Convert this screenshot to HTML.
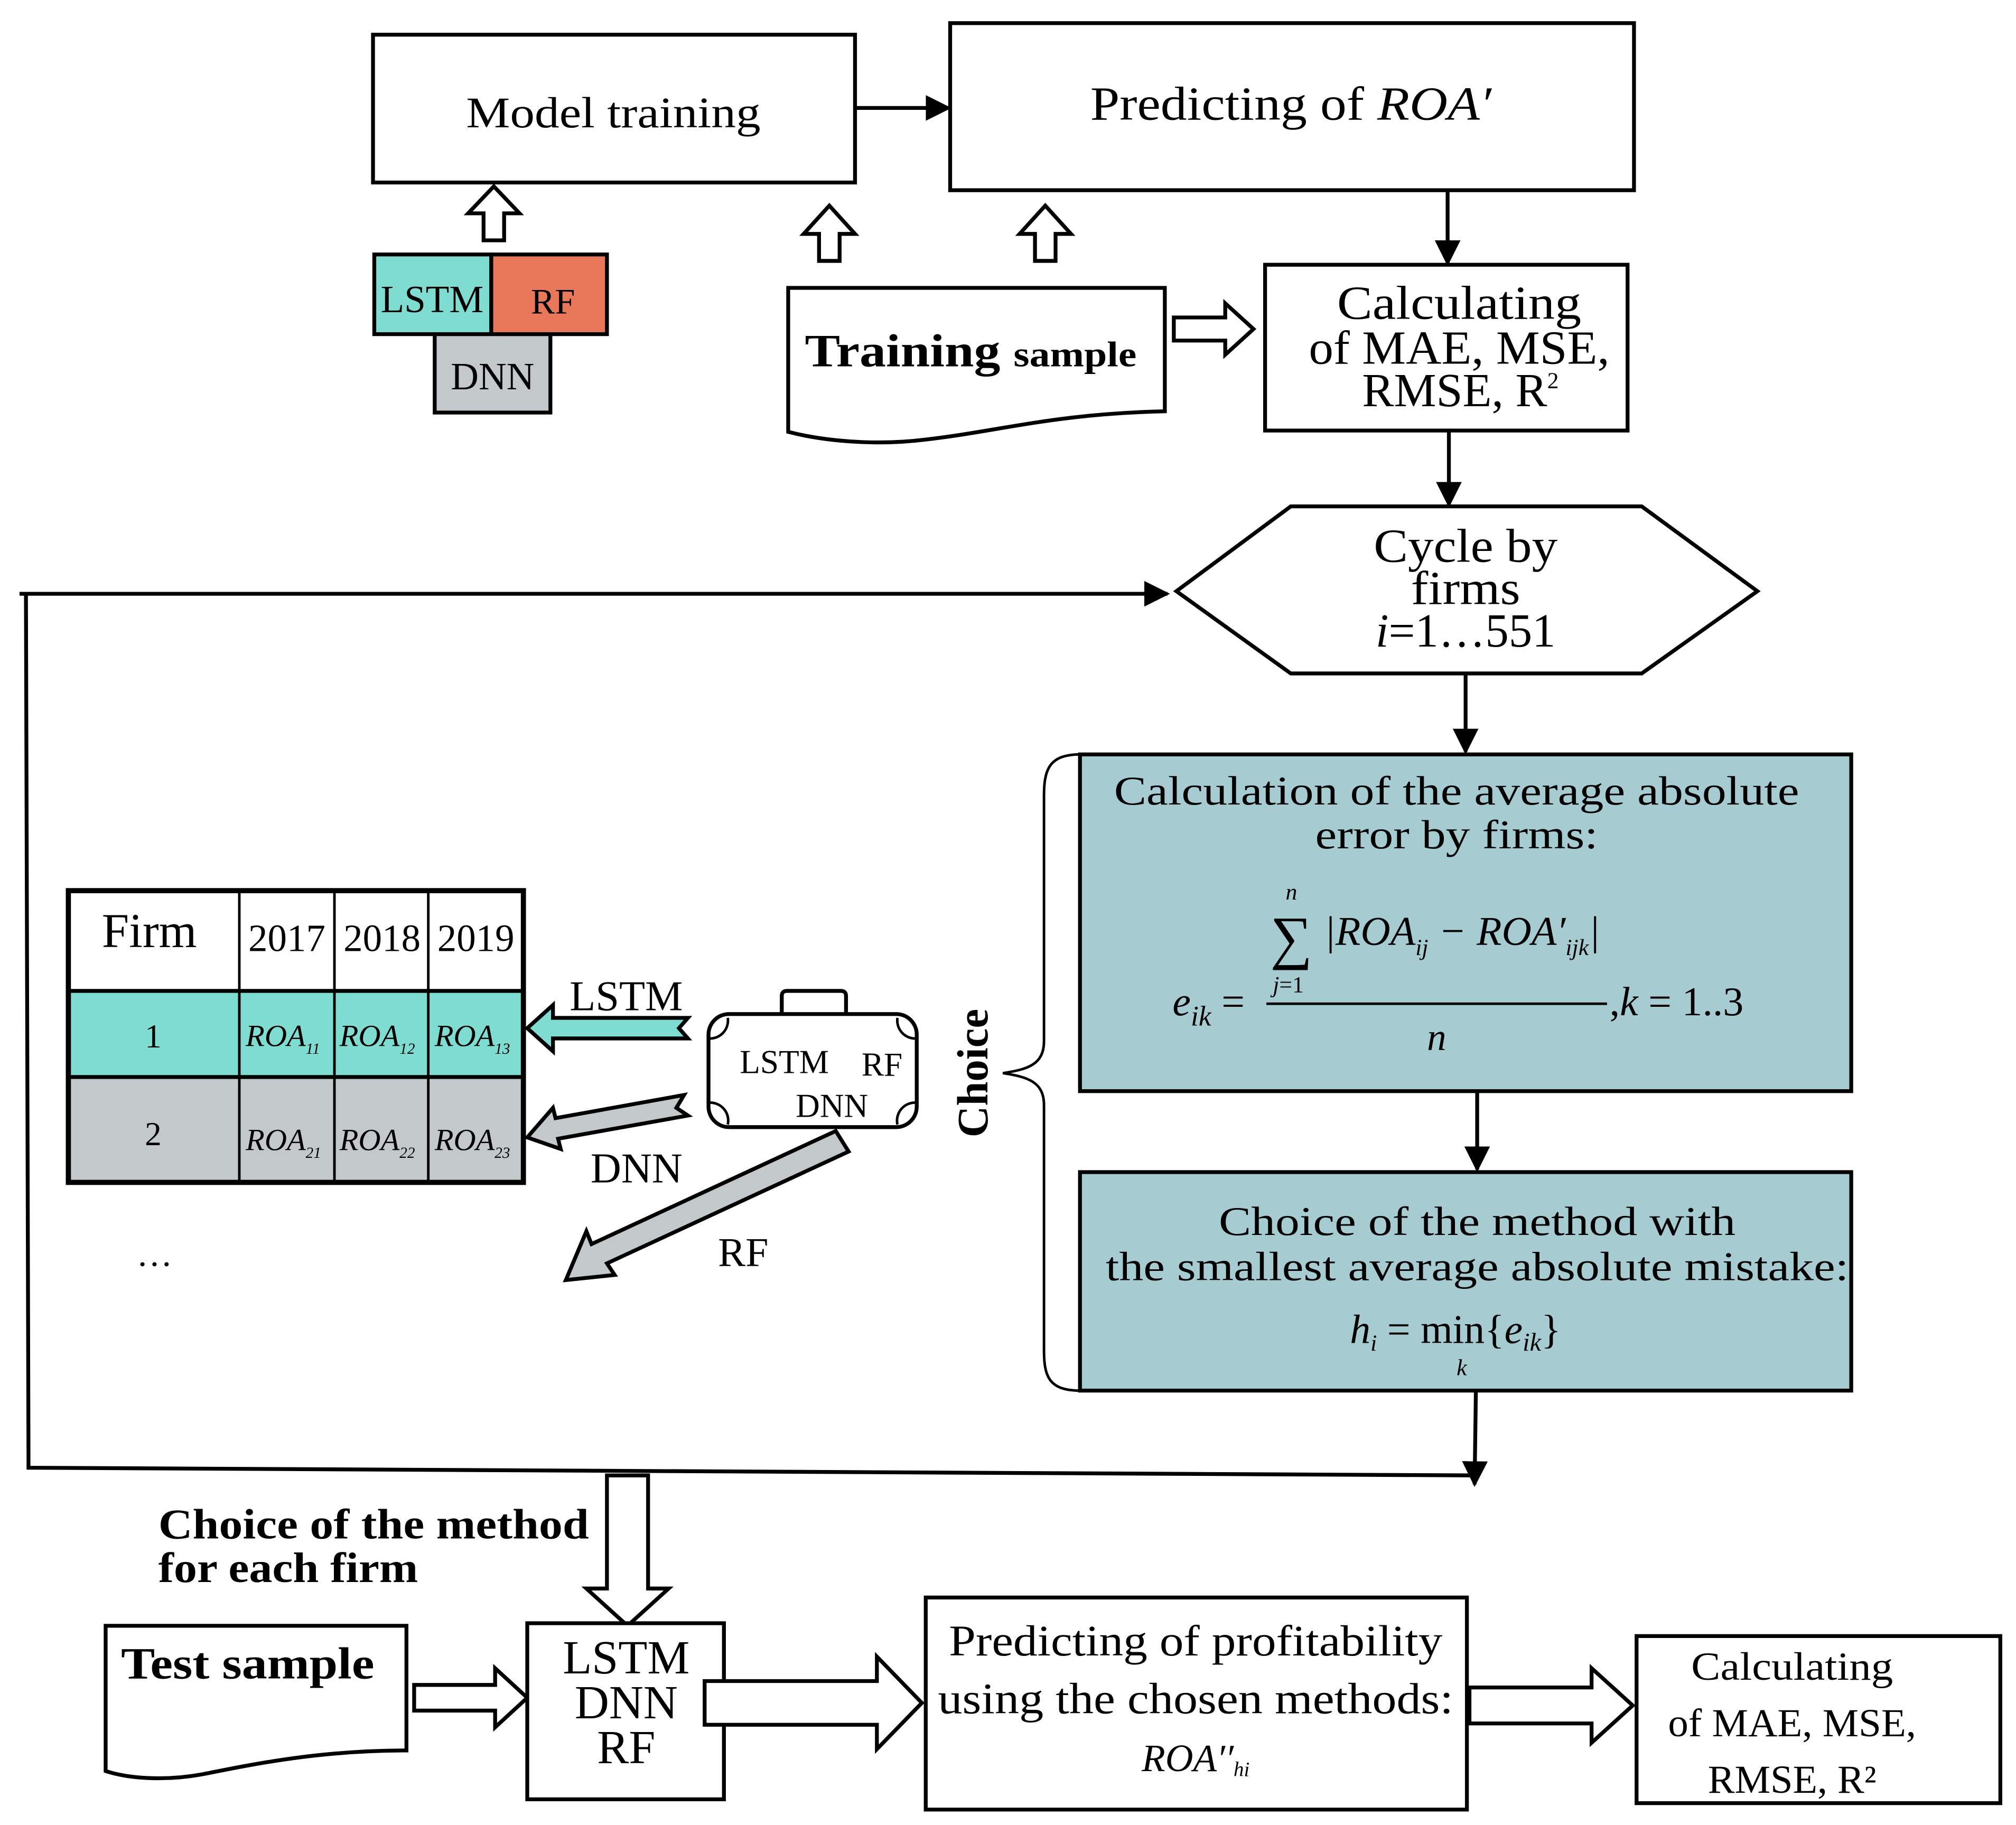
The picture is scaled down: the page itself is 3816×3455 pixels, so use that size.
<!DOCTYPE html>
<html><head><meta charset="utf-8"><style>html,body{margin:0;padding:0;background:#fff}svg{display:block}text{font-family:"Liberation Serif",serif;fill:#000}</style></head>
<body>
<svg width="3816" height="3455" viewBox="0 0 1568 1420" xmlns="http://www.w3.org/2000/svg">
<defs><marker id="ah2" markerWidth="20" markerHeight="20" refX="18" refY="10" orient="auto" markerUnits="userSpaceOnUse"><path d="M0,0 L20,10 L0,20 z" fill="#000"/></marker></defs>
<g stroke="#000" stroke-width="3" fill="none">
<rect x="290" y="27" width="375" height="115" fill="#fff"/>
<rect x="739" y="18" width="532" height="130" fill="#fff"/>
<line x1="665" y1="84" x2="738" y2="84" marker-end="url(#ah2)"/>
<polygon points="376,187 376,166 364,166 384,145 404,166 392,166 392,187" fill="#fff"/>
<polygon points="637,203 637,182 625,182 645,160 665,182 653,182 653,203" fill="#fff"/>
<polygon points="805,203 805,182 793,182 813,160 833,182 821,182 821,203" fill="#fff"/>
<rect x="291" y="198" width="91" height="62" fill="#7fdcd0"/>
<rect x="382" y="198" width="90" height="62" fill="#e9775a"/>
<rect x="338" y="260" width="90" height="61" fill="#c3c8ca"/>
<path d="M613,224 L906,224 L906,320 C820,322 780,335 720,342 C680,347 640,343 613,336 Z" fill="#fff"/>
<polygon points="913,247 953,247 953,236 975,256 953,276 953,265 913,265" fill="#fff"/>
<rect x="984" y="206" width="282" height="129" fill="#fff"/>
<line x1="1126" y1="148" x2="1126" y2="205" marker-end="url(#ah2)"/>
<line x1="1127" y1="335" x2="1127" y2="393" marker-end="url(#ah2)"/>
<polygon points="915,460 1004,394 1277,394 1367,460 1277,524 1004,524" fill="#fff"/>
<line x1="15" y1="462" x2="908" y2="462" marker-end="url(#ah2)"/>
<polyline points="20,462 22,1142 1147,1148"/>
<line x1="1148" y1="1082" x2="1147" y2="1155" marker-end="url(#ah2)"/>
<line x1="1140" y1="524" x2="1140" y2="585" marker-end="url(#ah2)"/>
<rect x="840" y="587" width="600" height="262" fill="#a6ccd2"/>
<line x1="1149" y1="849" x2="1149" y2="910" marker-end="url(#ah2)"/>
<rect x="840" y="912" width="600" height="170" fill="#a6ccd2"/>
<path d="M840,587 C815,587 812,600 812,620 L812,810 C812,828 800,832 780,835 C800,838 812,842 812,860 L812,1050 C812,1070 815,1082 840,1082" stroke-width="2"/>
<rect x="53" y="771" width="354" height="67" fill="#7fdcd0" stroke="none"/>
<rect x="53" y="838" width="354" height="82" fill="#c3c8ca" stroke="none"/>
<rect x="53" y="693" width="354" height="227" stroke-width="4"/>
<line x1="53" y1="771" x2="407" y2="771"/>
<line x1="53" y1="838" x2="407" y2="838"/>
<line x1="186" y1="693" x2="186" y2="920" stroke-width="2"/>
<line x1="260" y1="693" x2="260" y2="920" stroke-width="2"/>
<line x1="333" y1="693" x2="333" y2="920" stroke-width="2"/>
<polygon points="535,792 430,792 430,782 410,800 430,818 430,808 535,808 528,800" fill="#7fdcd0"/>
<polygon points="532,852 432,870 430,862 410,885 436,894 434,886 535,868 526,862" fill="#c3c8ca"/>
<polygon points="650,880 460,968 456,958 440,996 478,992 472,983 660,896" fill="#c3c8ca"/>
<path d="M608,789 L608,775 Q608,771 612,771 L654,771 Q658,771 658,775 L658,789" fill="#fff"/>
<rect x="551" y="789" width="162" height="88" rx="16" fill="#fff"/>
<path d="M551,808 A14,14 0 0 0 566,792 M713,808 A14,14 0 0 1 698,792 M551,858 A14,14 0 0 1 566,875 M713,858 A14,14 0 0 0 698,875" stroke-width="2"/>
<polygon points="472,1148 504,1148 504,1236 520,1236 488,1265 456,1236 472,1236" fill="#fff"/>
<path d="M82,1265 L316,1265 L316,1362 C250,1362 200,1372 160,1380 C130,1386 100,1384 82,1378 Z" fill="#fff"/>
<polygon points="322,1311 385,1311 385,1298 410,1321 385,1344 385,1331 322,1331" fill="#fff"/>
<rect x="410" y="1263" width="153" height="137" fill="#fff"/>
<polygon points="548,1308 682,1308 682,1289 717,1325 682,1361 682,1342 548,1342" fill="#fff"/>
<rect x="720" y="1243" width="421" height="165" fill="#fff"/>
<polygon points="1143,1313 1238,1313 1238,1298 1270,1327 1238,1356 1238,1341 1143,1341" fill="#fff"/>
<rect x="1273" y="1273" width="283" height="130" fill="#fff"/>
</g>
<text x="477" y="99" font-size="34" text-anchor="middle" textLength="229" lengthAdjust="spacingAndGlyphs">Model training</text>
<text x="1004" y="93" font-size="37" text-anchor="middle" textLength="312" lengthAdjust="spacingAndGlyphs">Predicting of <tspan font-style="italic">ROA′</tspan></text>
<text x="336" y="243" font-size="30" text-anchor="middle">LSTM</text>
<text x="430" y="244" font-size="28" text-anchor="middle">RF</text>
<text x="383" y="303" font-size="30" text-anchor="middle">DNN</text>
<text x="626" y="285" font-size="36" font-weight="bold" textLength="258" lengthAdjust="spacingAndGlyphs">Training <tspan font-size="28">sample</tspan></text>
<text x="1135" y="248" font-size="37" text-anchor="middle" textLength="190" lengthAdjust="spacingAndGlyphs">Calculating</text>
<text x="1135" y="283" font-size="37" text-anchor="middle" textLength="234" lengthAdjust="spacingAndGlyphs">of MAE, MSE,</text>
<text x="1136" y="316" font-size="37" text-anchor="middle">RMSE, R<tspan font-size="18" dy="-14">2</tspan></text>
<text x="1140" y="437" font-size="37" text-anchor="middle" textLength="143" lengthAdjust="spacingAndGlyphs">Cycle by</text>
<text x="1140" y="470" font-size="37" text-anchor="middle" textLength="85" lengthAdjust="spacingAndGlyphs">firms</text>
<text x="1140" y="503" font-size="37" text-anchor="middle" textLength="140" lengthAdjust="spacingAndGlyphs"><tspan font-style="italic">i</tspan>=1…551</text>
<text x="1133" y="626" font-size="32" text-anchor="middle" textLength="533" lengthAdjust="spacingAndGlyphs">Calculation of the average absolute</text>
<text x="1133" y="660" font-size="32" text-anchor="middle" textLength="220" lengthAdjust="spacingAndGlyphs">error by firms:</text>
<text x="1000" y="700" font-size="18" font-style="italic">n</text>
<text x="988" y="745" font-size="46">∑</text>
<text x="990" y="772" font-size="18"><tspan font-style="italic">j</tspan>=1</text>
<text x="1030" y="735" font-size="32" font-style="italic">|ROA<tspan font-size="18" dy="8">ij</tspan><tspan dy="-8"> − ROA′</tspan><tspan font-size="18" dy="8">ijk</tspan><tspan dy="-8">|</tspan></text>
<line x1="985" y1="781" x2="1250" y2="781" stroke="#000" stroke-width="2"/>
<text x="912" y="790" font-size="32" font-style="italic">e<tspan font-size="22" dy="8">ik</tspan><tspan dy="-8" font-style="normal"> =</tspan></text>
<text x="1252" y="790" font-size="32">,<tspan font-style="italic">k</tspan> = 1..3</text>
<text x="1110" y="817" font-size="30" font-style="italic">n</text>
<text x="1149" y="961" font-size="32" text-anchor="middle" textLength="402" lengthAdjust="spacingAndGlyphs">Choice of the method with</text>
<text x="1149" y="996" font-size="32" text-anchor="middle" textLength="578" lengthAdjust="spacingAndGlyphs">the smallest average absolute mistake:</text>
<text x="1050" y="1045" font-size="32"><tspan font-style="italic">h</tspan><tspan font-size="18" dy="6" font-style="italic">i</tspan><tspan dy="-6"> = min{</tspan><tspan font-style="italic">e</tspan><tspan font-size="20" dy="6" font-style="italic">ik</tspan><tspan dy="-6">}</tspan></text>
<text x="1133" y="1070" font-size="18" font-style="italic">k</text>
<text x="768" y="835" font-size="34" font-weight="bold" text-anchor="middle" transform="rotate(-90 768 835)">Choice</text>
<text x="116" y="737" font-size="38" text-anchor="middle">Firm</text>
<text x="223" y="740" font-size="30" text-anchor="middle">2017</text>
<text x="297" y="740" font-size="30" text-anchor="middle">2018</text>
<text x="370" y="740" font-size="30" text-anchor="middle">2019</text>
<text x="119" y="815" font-size="26" text-anchor="middle">1</text>
<text x="119" y="891" font-size="26" text-anchor="middle">2</text>
<g font-size="24" font-style="italic">
<text x="191" y="814">ROA<tspan font-size="12" dy="6">11</tspan></text>
<text x="264" y="814">ROA<tspan font-size="12" dy="6">12</tspan></text>
<text x="338" y="814">ROA<tspan font-size="12" dy="6">13</tspan></text>
<text x="191" y="895">ROA<tspan font-size="12" dy="6">21</tspan></text>
<text x="264" y="895">ROA<tspan font-size="12" dy="6">22</tspan></text>
<text x="338" y="895">ROA<tspan font-size="12" dy="6">23</tspan></text>
</g>
<text x="120" y="985" font-size="28" text-anchor="middle">…</text>
<text x="487" y="786" font-size="33" text-anchor="middle">LSTM</text>
<text x="495" y="920" font-size="33" text-anchor="middle">DNN</text>
<text x="578" y="985" font-size="32" text-anchor="middle">RF</text>
<text x="610" y="835" font-size="26" text-anchor="middle">LSTM</text>
<text x="686" y="837" font-size="26" text-anchor="middle">RF</text>
<text x="647" y="869" font-size="26" text-anchor="middle">DNN</text>
<text x="123" y="1197" font-size="33" font-weight="bold" textLength="335" lengthAdjust="spacingAndGlyphs">Choice of the method</text>
<text x="123" y="1231" font-size="33" font-weight="bold" textLength="202" lengthAdjust="spacingAndGlyphs">for each firm</text>
<text x="94" y="1306" font-size="35" font-weight="bold" textLength="197" lengthAdjust="spacingAndGlyphs">Test sample</text>
<text x="487" y="1302" font-size="37" text-anchor="middle">LSTM</text>
<text x="487" y="1337" font-size="37" text-anchor="middle">DNN</text>
<text x="487" y="1372" font-size="37" text-anchor="middle">RF</text>
<text x="930" y="1288" font-size="34" text-anchor="middle" textLength="384" lengthAdjust="spacingAndGlyphs">Predicting of profitability</text>
<text x="930" y="1333" font-size="34" text-anchor="middle" textLength="401" lengthAdjust="spacingAndGlyphs">using the chosen methods:</text>
<text x="930" y="1378" font-size="30" text-anchor="middle" font-style="italic">ROA′′<tspan font-size="16" dy="4">hi</tspan></text>
<text x="1394" y="1307" font-size="31" text-anchor="middle" textLength="157" lengthAdjust="spacingAndGlyphs">Calculating</text>
<text x="1394" y="1351" font-size="31" text-anchor="middle" textLength="193" lengthAdjust="spacingAndGlyphs">of MAE, MSE,</text>
<text x="1394" y="1395" font-size="31" text-anchor="middle" textLength="131" lengthAdjust="spacingAndGlyphs">RMSE, R²</text>
</svg>
</body></html>
